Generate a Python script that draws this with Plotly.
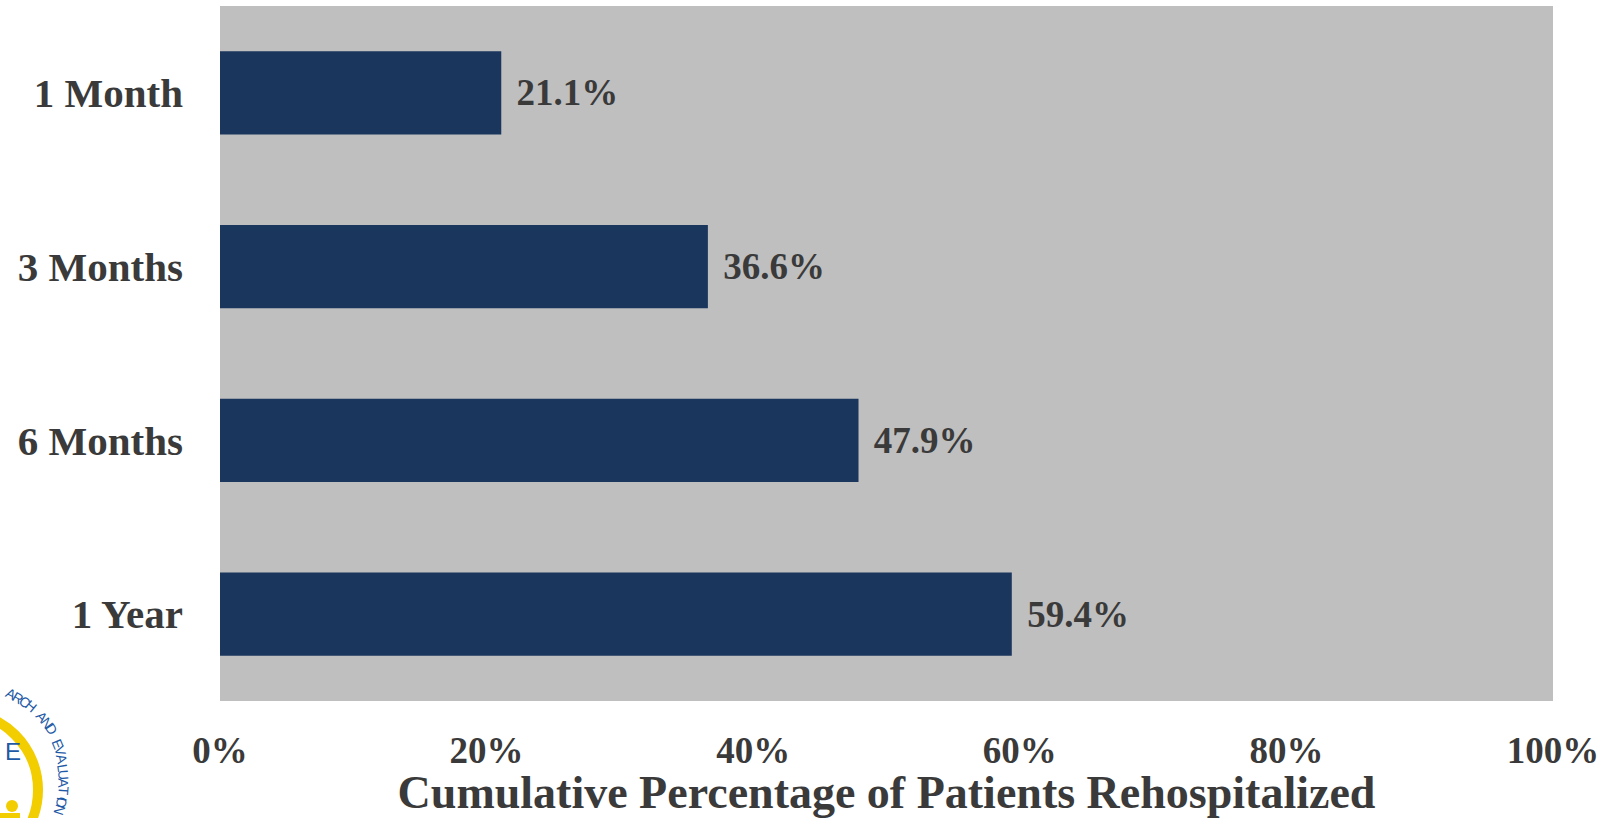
import math
import plotly.graph_objects as go

# Rehospitalization by time since discharge
periods = ["1 Month", "3 Months", "6 Months", "1 Year"]
pct_rehospitalized = [21.1, 36.6, 47.9, 59.4]
x_ticks = [0, 20, 40, 60, 80, 100]
x_tick_labels = ["0%", "20%", "40%", "60%", "80%", "100%"]
logo_ring_text = "RESEARCH AND EVALUATION"

W, H = 1607, 818
M_L, M_R, M_T, M_B = 220, 54, 6, 117
PW, PH = W - M_L - M_R, H - M_T - M_B

FONT = "Liberation Serif"
TXT = "#3a3a3a"
BAR = "#1a365d"
BG = "#bfbfbf"
LOGO_BLUE = "#1f5aa6"
LOGO_GOLD = "#f2cd00"


def to_paper(px, py):
    return (px - M_L) / PW, (H - M_B - py) / PH


fig = go.Figure(
    go.Bar(
        x=pct_rehospitalized,
        y=periods,
        orientation="h",
        marker=dict(color=BAR, line=dict(width=0)),
        text=[f"<b>\u2004{v:.1f}%</b>" for v in pct_rehospitalized],
        textposition="outside",
        textfont=dict(family=FONT, size=37, color=TXT),
        cliponaxis=False,
        width=0.48,
    )
)

fig.update_layout(
    width=W,
    height=H,
    margin=dict(l=M_L, r=M_R, t=M_T, b=M_B, pad=0),
    paper_bgcolor="white",
    plot_bgcolor=BG,
    showlegend=False,
    uniformtext=dict(minsize=37, mode="show"),
    xaxis=dict(
        range=[0, 100],
        tickvals=x_ticks,
        ticktext=[f"<b>{t}</b>" for t in x_tick_labels],
        tickfont=dict(family=FONT, size=37, color=TXT),
        showgrid=False,
        zeroline=False,
        ticks="",
        ticklabelstandoff=24,
        title=dict(
            text="<b>Cumulative Percentage of Patients Rehospitalized</b>",
            font=dict(family=FONT, size=46, color=TXT),
            standoff=0,
        ),
        fixedrange=True,
    ),
    yaxis=dict(
        categoryorder="array",
        categoryarray=periods[::-1],
        tickvals=periods,
        ticktext=[f"<b>{p}</b>" for p in periods],
        tickfont=dict(family=FONT, size=41, color=TXT),
        showgrid=False,
        zeroline=False,
        ticks="",
        ticklabelstandoff=36,
        fixedrange=True,
    ),
)

# Partial circular logo in the lower-left corner
cx, cy, r_ring = -40, 790, 78
x0, y1 = to_paper(cx - r_ring, cy - r_ring)
x1, y0 = to_paper(cx + r_ring, cy + r_ring)
fig.add_shape(
    type="circle", xref="paper", yref="paper",
    x0=x0, x1=x1, y0=y0, y1=y1,
    line=dict(color=LOGO_GOLD, width=10), fillcolor="rgba(0,0,0,0)",
    layer="above",
)
# small figure inside the ring
hx, hy = to_paper(12, 806)
fig.add_shape(
    type="circle", xref="paper", yref="paper",
    x0=hx - 6 / PW, x1=hx + 6 / PW, y0=hy - 6 / PH, y1=hy + 6 / PH,
    line=dict(width=0), fillcolor=LOGO_GOLD,
)
bx, by = to_paper(0, 818)
fig.add_shape(
    type="rect", xref="paper", yref="paper",
    x0=bx, x1=bx + 20 / PW, y0=by, y1=by + 5 / PH,
    line=dict(width=0), fillcolor=LOGO_GOLD,
)
ex, ey = to_paper(3, 767)
fig.add_annotation(
    x=ex, y=ey, xref="paper", yref="paper", text="E", showarrow=False,
    font=dict(family="Liberation Sans", size=24, color=LOGO_BLUE),
)

# lettering around the ring
r_text = 93
step = 4.6
end_angle = 104 + step  # final "N" sits just past the page edge
n = len(logo_ring_text)
for i, ch in enumerate(logo_ring_text):
    if ch == " ":
        continue
    ang = end_angle - step * (n - 1 - i)
    a = math.radians(ang)
    px = cx + r_text * math.sin(a)
    py = cy - r_text * math.cos(a)
    if px < -3 or py > H + 3:
        continue
    ax_, ay_ = to_paper(px, py)
    fig.add_annotation(
        x=ax_, y=ay_, xref="paper", yref="paper", text=ch, showarrow=False,
        textangle=ang,
        font=dict(family="Liberation Sans Narrow, Liberation Sans", size=14, color=LOGO_BLUE),
    )

fig.write_html("out.html")
